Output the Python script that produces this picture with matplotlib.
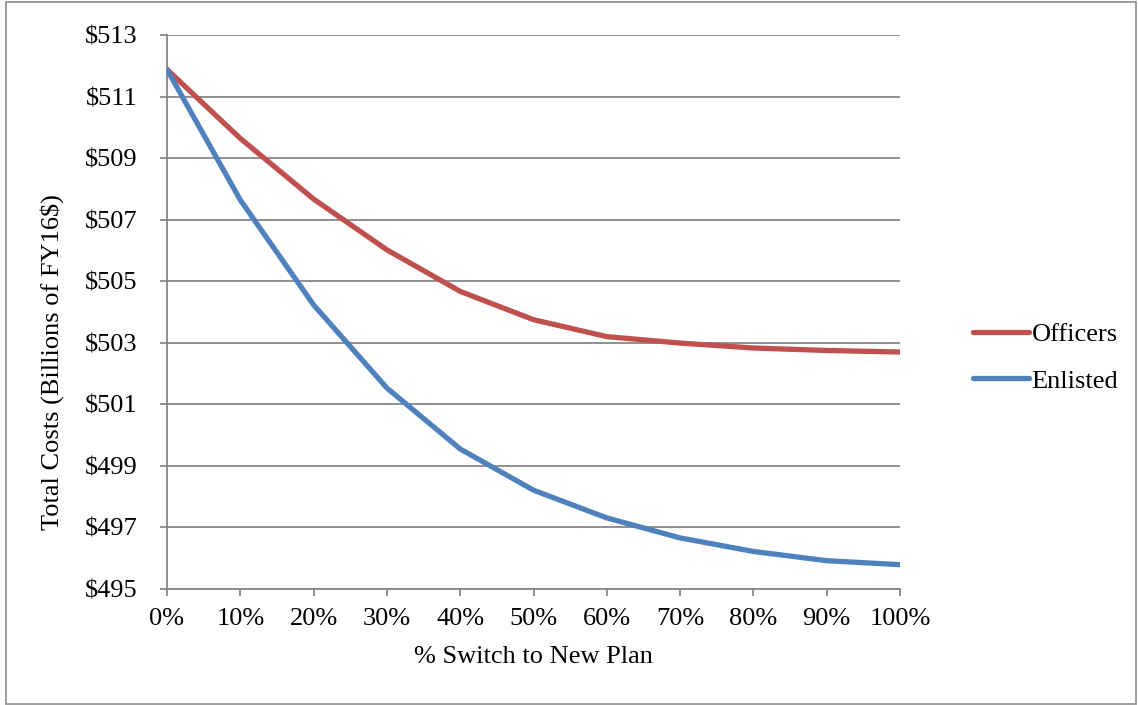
import matplotlib
matplotlib.use( 'Agg' )
import matplotlib.pyplot as plt
from matplotlib.patches import Rectangle
from matplotlib.ticker import FuncFormatter

plt.rcParams[ 'font.family' ] = [ 'Liberation Serif', 'DejaVu Serif' ]

# % switching to the new plan
pct_switch = [ 0, 10, 20, 30, 40, 50, 60, 70, 80, 90, 100 ]

# total costs, billions of FY16$
officers = [ 511.88, 509.64, 507.67, 506.02, 504.67, 503.75, 503.20, 502.99, 502.83, 502.75, 502.70 ]
enlisted = [ 511.88, 507.64, 504.23, 501.53, 499.55, 498.21, 497.31, 496.66, 496.22, 495.92, 495.79 ]

y_ticks = [ 495, 497, 499, 501, 503, 505, 507, 509, 511, 513 ]

GRID = '#878787'
FS = 19

fig = plt.figure( figsize = ( 11.38, 7.05 ), dpi = 100 )
ax = fig.add_axes( [ 167 / 1138, 116 / 705, 733 / 1138, 554 / 705 ] )

# outer frame of the chart
fig.patches.append( Rectangle(
    ( 6 / 1138, 1.5 / 705 ), 1130 / 1138, 702 / 705,
    transform = fig.transFigure, fill = False,
    edgecolor = '#8c8c8c', linewidth = 1.2,
) )

ax.plot( pct_switch, officers, color = '#C0504D', linewidth = 3.8,
         solid_capstyle = 'round', label = 'Officers', zorder = 3 )
ax.plot( pct_switch, enlisted, color = '#4F81BD', linewidth = 3.8,
         solid_capstyle = 'round', label = 'Enlisted', zorder = 3 )

ax.set_xlim( 0, 100 )
ax.set_ylim( 495, 513 )
ax.set_xticks( pct_switch )
ax.set_yticks( y_ticks )
ax.xaxis.set_major_formatter( FuncFormatter( lambda v, p: f'{v:.0f}%' ) )
ax.yaxis.set_major_formatter( FuncFormatter( lambda v, p: f'${v:.0f}' ) )

ax.yaxis.grid( True, color = GRID, linewidth = 1.3 )
ax.set_axisbelow( True )

for side in [ 'top', 'right' ]:
    ax.spines[ side ].set_visible( False )
for side in [ 'left', 'bottom' ]:
    ax.spines[ side ].set_color( GRID )
    ax.spines[ side ].set_linewidth( 1.3 )

ax.tick_params( axis = 'both', direction = 'out', length = 5, width = 1.3,
                color = GRID, labelsize = FS )
ax.tick_params( axis = 'y', pad = 16 )
ax.tick_params( axis = 'x', pad = 9 )

ax.set_xlabel( '% Switch to New Plan', fontsize = FS, labelpad = 11 )
# label sits a bit below the axis centre, as in the source
ax.set_ylabel( 'Total Costs (Billions of FY16$)', fontsize = FS, labelpad = 15, y = 0.41 )

ax.legend(
    loc = 'center left', bbox_to_anchor = ( 1.067, 0.418 ),
    frameon = False, fontsize = FS,
    handlelength = 2.12, handletextpad = 0.1, labelspacing = 0.88,
)

fig.savefig( 'out.png', dpi = 100 )
